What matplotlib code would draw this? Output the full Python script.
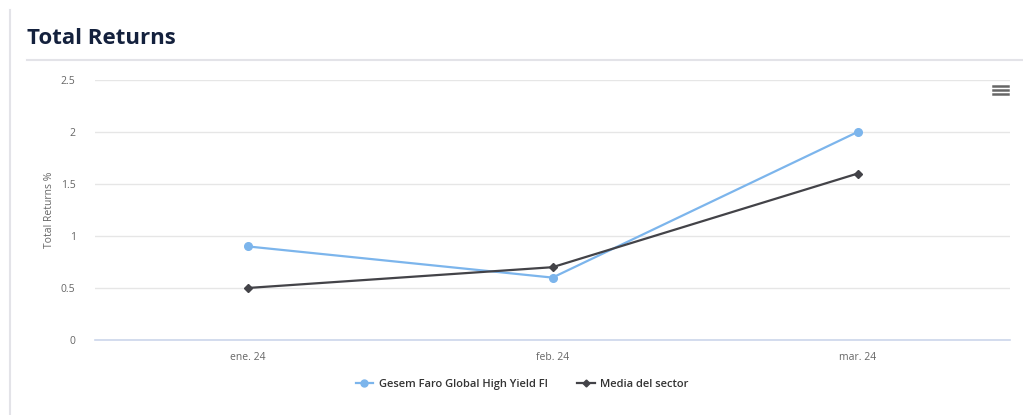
import matplotlib
matplotlib.use("Agg")
import matplotlib.pyplot as plt
from matplotlib.lines import Line2D

plt.rcParams['font.family'] = ['Open Sans', 'DejaVu Sans']

months = ["ene. 24", "feb. 24", "mar. 24"]
fund_returns = [0.9, 0.6, 2.0]
sector_returns = [0.5, 0.7, 1.6]
yticks = [0, 0.5, 1, 1.5, 2, 2.5]
ytick_labels = ["0", "0.5", "1", "1.5", "2", "2.5"]
fund_name = "Gesem Faro Global High Yield FI"
sector_name = "Media del sector"

W, H = 1023, 415
fig = plt.figure(figsize=(W / 100, H / 100), dpi=100)
fig.patch.set_facecolor("white")

# plot area in pixel coordinates
left, right, top, bottom = 95, 1010, 80, 340
ax = fig.add_axes([left / W, 1 - bottom / H, (right - left) / W, (bottom - top) / H])

x = list(range(len(months)))
blue = "#7cb5ec"
dark = "#434348"
ax.plot(x, fund_returns, color=blue, lw=1.6, marker="o", ms=5.5, zorder=3)
ax.plot(x, sector_returns, color=dark, lw=1.6, marker="D", ms=4, zorder=3)

ax.set_xlim(-0.5, len(months) - 0.5)
ax.set_ylim(0, 2.5)
ax.set_yticks(yticks)
ax.set_yticklabels(ytick_labels)
ax.set_xticks(x)
ax.set_xticklabels(months)
ax.grid(axis="y", color="#e6e6e6", lw=1)
ax.set_axisbelow(True)
for s in ["top", "right", "left"]:
    ax.spines[s].set_visible(False)
ax.spines["bottom"].set_color("#ccd6eb")
ax.spines["bottom"].set_linewidth(1.2)
ax.tick_params(axis="y", length=0, pad=14, labelsize=7.5, labelcolor="#666666")
ax.tick_params(axis="x", length=0, pad=9, labelsize=7.5, labelcolor="#666666")
ax.set_ylabel("Total Returns %", fontsize=7.5, color="#666666", labelpad=4)

# title and decoration
fig.text(27 / W, 1 - 38 / H, "Total Returns", fontsize=16, fontweight="bold",
         color="#14213d", va="center", ha="left")
fig.add_artist(Line2D([27 / W, 1.0], [1 - 60 / H, 1 - 60 / H], color="#e3e3e8", lw=1.5))
fig.add_artist(Line2D([10 / W, 10 / W], [0, 1 - 10 / H], color="#e3e3e8", lw=1.5))

# menu icon
for yy in (86, 90, 94):
    fig.add_artist(Line2D([993 / W, 1008 / W], [1 - yy / H, 1 - yy / H], color="#666666", lw=1.8))

# legend
handles = [
    Line2D([], [], color=blue, lw=1.6, marker="o", ms=5),
    Line2D([], [], color=dark, lw=1.6, marker="D", ms=3.5),
]
fig.legend(handles, [fund_name, sector_name], loc="center", bbox_to_anchor=(522 / W, 1 - 384 / H),
           ncol=2, frameon=False, handlelength=1.6, columnspacing=2.6,
           handletextpad=0.5, prop={"weight": "semibold", "size": 8})
for t in fig.legends[0].get_texts():
    t.set_color("#333333")

fig.savefig("out.png", dpi=100)
